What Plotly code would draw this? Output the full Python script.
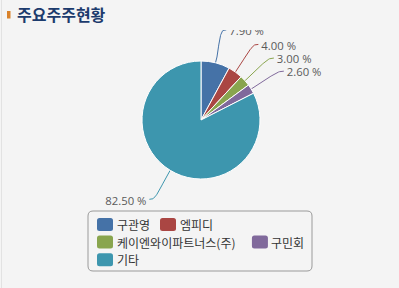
import math
import plotly.graph_objects as go

# ---- data ----
labels = ["구관영", "엠피디", "케이엔와이파트너스(주)", "구민회", "기타"]
values = [7.90, 4.00, 3.00, 2.60, 82.50]
colors = ["#4572A7", "#AA4643", "#89A54E", "#80699B", "#3D96AE"]
title_text = "주요주주현황"

# ---- layout constants (pixels) ----
W, H = 399, 288
BG = "#f4f4f4"
CX, CY, R = 201, 120, 59
CLIP_TOP = 30
LBL_RX, LBL_RY = 95, 93
LABEL_FONT = dict(family="Open Sans, Noto Sans CJK KR", size=11.3, color="#5a5a5a")
LEG_FONT = dict(family="Noto Sans CJK KR", size=12, color="#333333")

fig = go.Figure()

fig.add_trace(go.Pie(
    labels=labels, values=values, sort=False, direction="clockwise", rotation=0,
    marker=dict(colors=colors, line=dict(color="white", width=1)),
    textinfo="none", hoverinfo="skip", showlegend=False,
    domain=dict(x=[(CX - R) / W, (CX + R) / W], y=[1 - (CY + R) / H, 1 - (CY - R) / H]),
))

# ---- data labels with soft connectors (computed from values) ----
total = sum(values)
cum = 0.0
for lab, v, c in zip(labels, values, colors):
    mid = (cum + v / 2) / total * 2 * math.pi
    cum += v
    s, co = math.sin(mid), math.cos(mid)
    sign = 1 if s >= 0 else -1
    ex, ey = CX + R * s, CY - R * co
    bx, by = CX + (R + 6) * s, CY - (R + 6) * co
    lx, ly = CX + LBL_RX * s, CY - LBL_RY * co
    p0 = (lx, ly)
    p1 = (lx - sign * 5, ly)
    p2 = (2 * bx - ex, 2 * by - ey)
    p3 = (bx, by)
    xs, ys = [lx + sign * 2], [ly]
    for i in range(0, 31):
        t = i / 30
        a, b, cc, d = (1 - t) ** 3, 3 * (1 - t) ** 2 * t, 3 * (1 - t) * t ** 2, t ** 3
        xs.append(a * p0[0] + b * p1[0] + cc * p2[0] + d * p3[0])
        ys.append(a * p0[1] + b * p1[1] + cc * p2[1] + d * p3[1])
    xs.append(ex)
    ys.append(ey)
    fig.add_trace(go.Scatter(x=xs, y=ys, mode="lines", line=dict(color=c, width=1),
                             hoverinfo="skip", showlegend=False, cliponaxis=True))
    fig.add_trace(go.Scatter(x=[lx + sign * 5], y=[ly + 2.5], mode="text",
                             text=[f"{v:.2f} %"],
                             textposition="middle right" if sign > 0 else "middle left",
                             textfont=LABEL_FONT, hoverinfo="skip", showlegend=False,
                             cliponaxis=True))

# ---- custom legend (flow layout) ----
def text_w(t, size=12):
    w = 0
    for ch in t:
        if "\uac00" <= ch <= "\ud7a3":
            w += size
        elif ch in "()":
            w += size * 0.33
        else:
            w += size * 0.6
    return w

def rrect(x0, y0, x1, y1, r):
    return (f"M{x0 + r},{y0} L{x1 - r},{y0} Q{x1},{y0} {x1},{y0 + r} "
            f"L{x1},{y1 - r} Q{x1},{y1} {x1 - r},{y1} L{x0 + r},{y1} "
            f"Q{x0},{y1} {x0},{y1 - r} L{x0},{y0 + r} Q{x0},{y0} {x0 + r},{y0} Z")

shapes = []
annotations = []
LX0, LX1, LY0, LY1 = 88, 312, 211, 271
shapes.append(dict(type="path", xref="x", yref="y", path=rrect(LX0, LY0, LX1, LY1, 5),
                   line=dict(color="#9a9a9a", width=1), fillcolor="rgba(0,0,0,0)", layer="above"))
x, row_y = 97, 224.5
ROW_H = 17.6
for lab, c in zip(labels, colors):
    iw = 16 + 4 + text_w(lab)
    if x + iw > LX1 - 4 and x > 97:
        x = 97
        row_y += ROW_H
    shapes.append(dict(type="path", xref="x", yref="y",
                       path=rrect(x, row_y - 6.5, x + 16, row_y + 6.5, 2.5),
                       line=dict(width=0), fillcolor=c, layer="above"))
    annotations.append(dict(xref="x", yref="y", x=x + 18.5, y=row_y, text=lab, showarrow=False,
                            xanchor="left", yanchor="middle", font=LEG_FONT, borderpad=0))
    x += iw + 7

# ---- title ----
shapes.append(dict(type="rect", xref="paper", yref="paper", x0=7 / W, x1=10.5 / W,
                   y0=1 - 18.5 / H, y1=1 - 11 / H, line=dict(width=0), fillcolor="#d9822b"))
annotations.append(dict(xref="paper", yref="paper", x=15 / W, y=1 - 14.5 / H, text=f"<b>{title_text}</b>",
                        showarrow=False, xanchor="left", yanchor="middle",
                        font=dict(family="Noto Sans CJK KR", size=16, color="#1c3b6d")))
# faint left border
shapes.append(dict(type="line", xref="paper", yref="paper", x0=1.5 / W, x1=1.5 / W, y0=0, y1=1,
                   line=dict(color="#e2e2e2", width=1)))

fig.update_layout(
    width=W, height=H, margin=dict(l=0, r=0, t=0, b=0),
    paper_bgcolor=BG, plot_bgcolor="rgba(0,0,0,0)",
    showlegend=False, hovermode=False,
    xaxis=dict(range=[0, W], domain=[0, 1], visible=False, fixedrange=True),
    yaxis=dict(range=[H, CLIP_TOP], domain=[0, 1 - CLIP_TOP / H], visible=False, fixedrange=True),
    shapes=shapes, annotations=annotations,
)

fig.write_html("out.html", config=dict(displayModeBar=False))
